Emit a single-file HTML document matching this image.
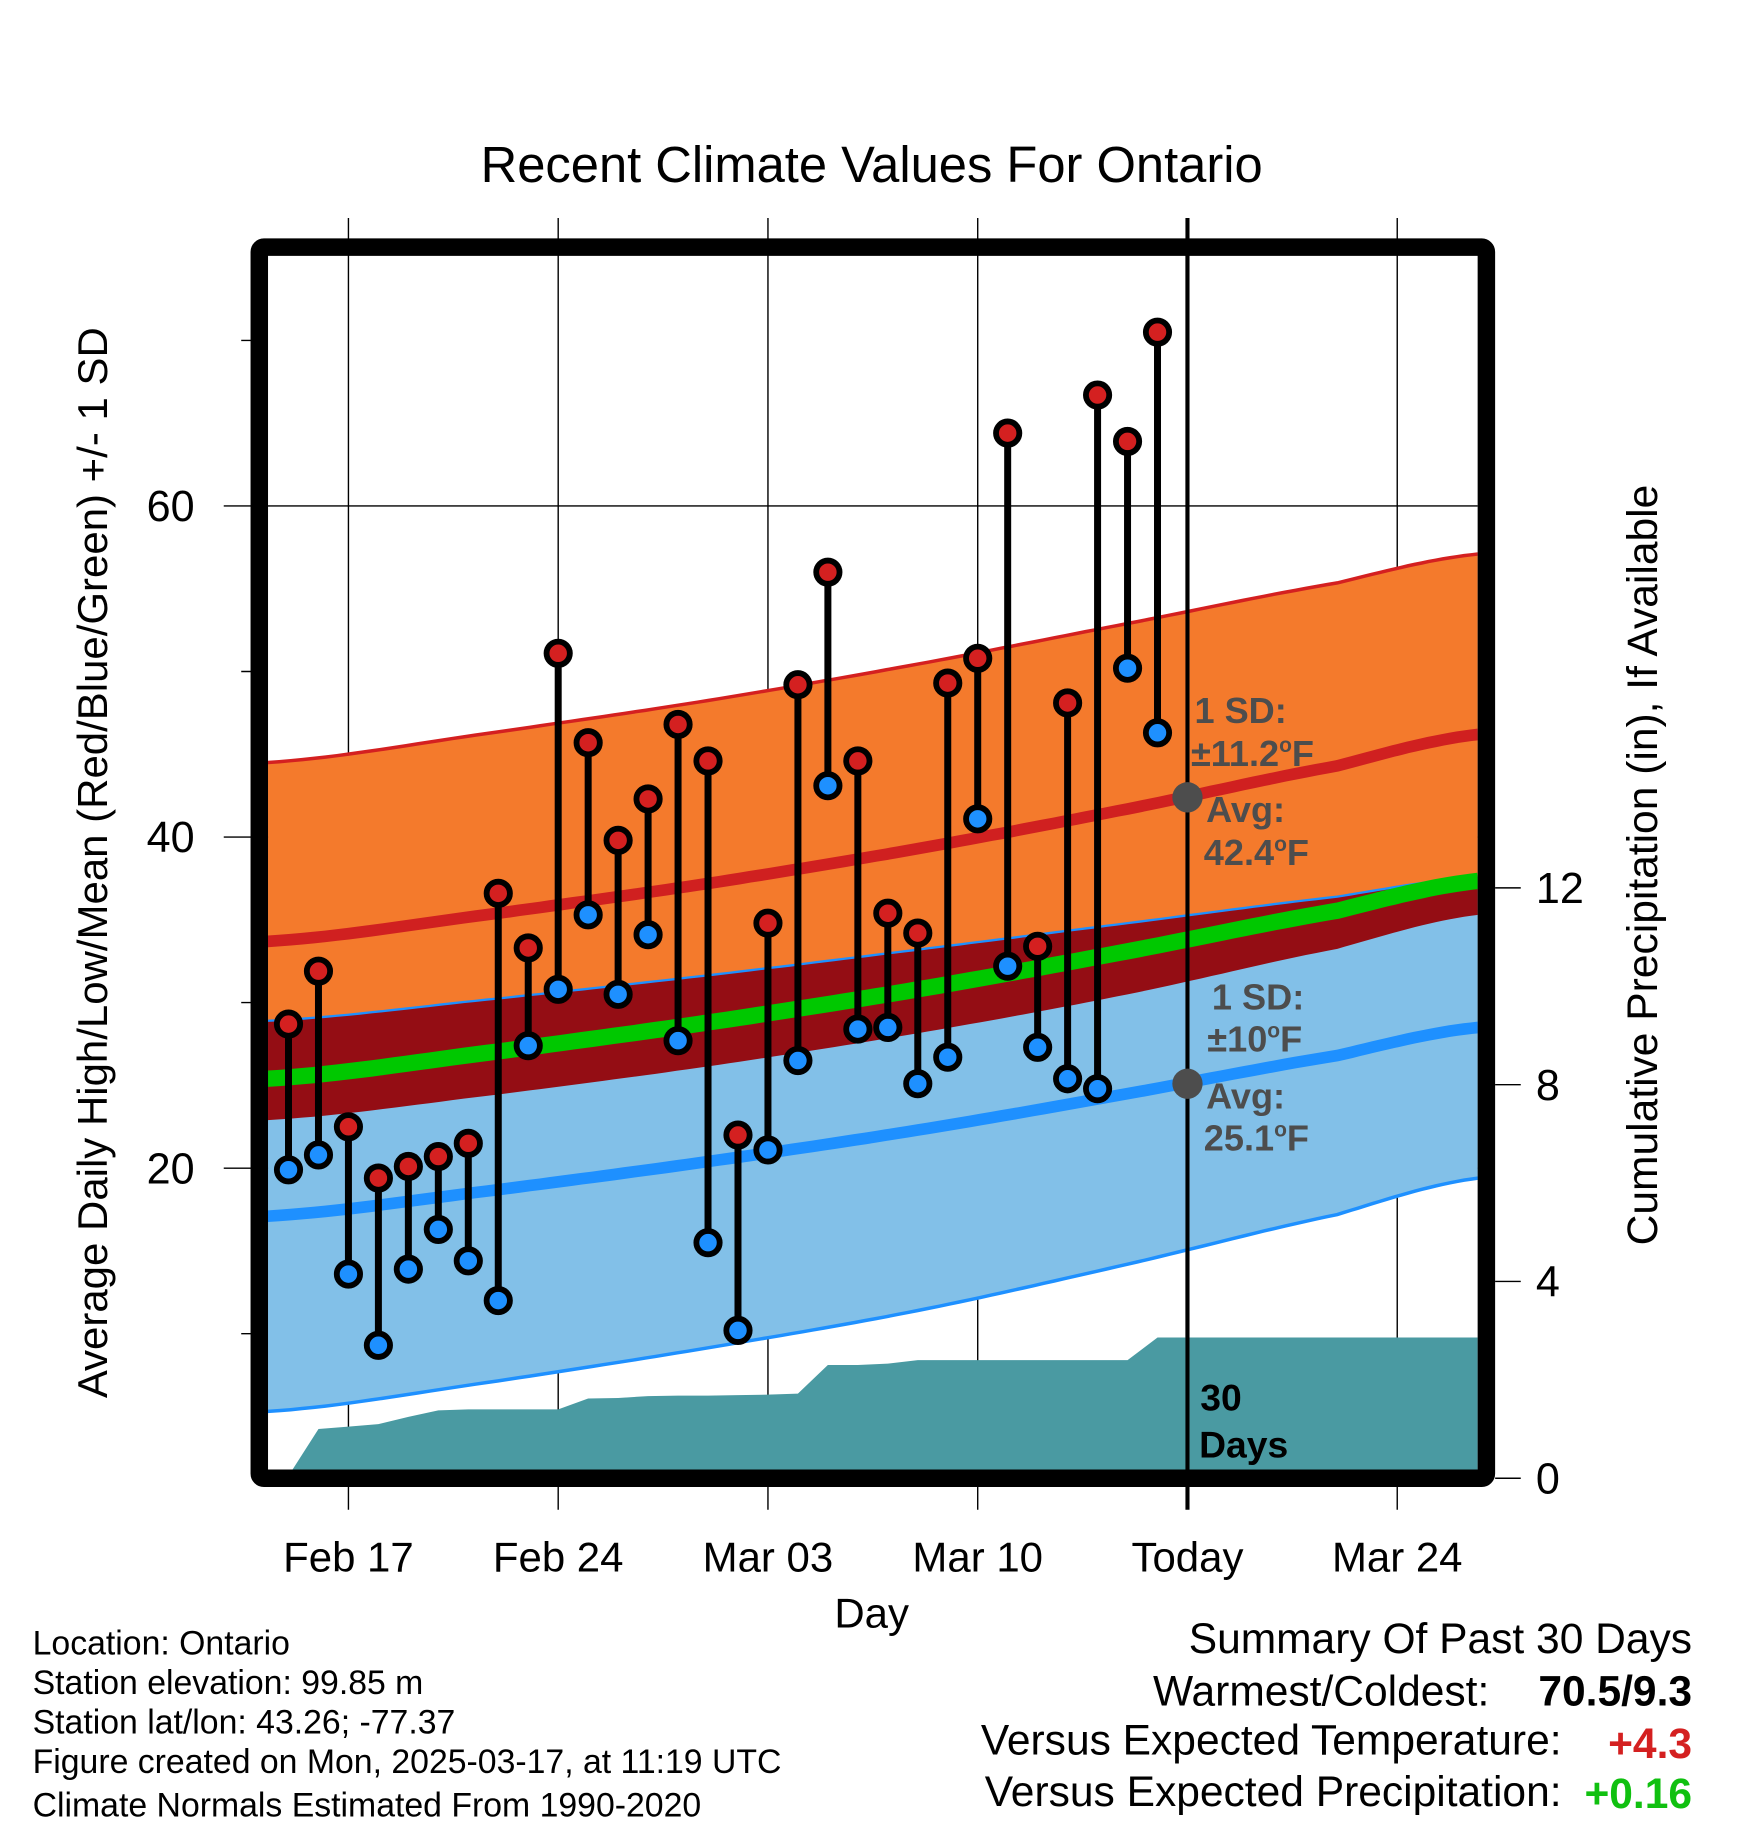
<!DOCTYPE html>
<html><head><meta charset="utf-8"><style>
html,body{margin:0;padding:0;background:#fff;}
svg{display:block;font-family:"Liberation Sans",sans-serif;}
</style></head><body>
<svg id="chart" width="1748" height="1828" viewBox="0 0 1500 1568" preserveAspectRatio="none" xmlns="http://www.w3.org/2000/svg">
<defs><clipPath id="plotclip"><rect x="230" y="219" width="1038" height="1042"/></clipPath></defs>
<rect x="0" y="0" width="1500" height="1568" fill="#fff"/>
<text x="748" y="156" font-size="43.5" text-anchor="middle">Recent Climate Values For Ontario</text>
<g id="grid"></g>
<g id="bands" clip-path="url(#plotclip)"></g>
<g id="precip" clip-path="url(#plotclip)"></g>
<g id="marks"></g>
<g id="labels"></g>
<rect x="222.5" y="212" width="1053" height="1056" fill="none" stroke="#000" stroke-width="15" rx="4"/>
<text transform="translate(92,740) rotate(-90)" font-size="36" text-anchor="middle">Average Daily High/Low/Mean (Red/Blue/Green) +/- 1 SD</text>
<text transform="translate(1422,742) rotate(-90)" font-size="36.5" text-anchor="middle">Cumulative Precipitation (in), If Available</text>
<text x="748" y="1396" font-size="36" text-anchor="middle">Day</text>
<g font-size="29">
<text x="28" y="1419">Location: Ontario</text>
<text x="28" y="1453">Station elevation: 99.85 m</text>
<text x="28" y="1487">Station lat/lon: 43.26; -77.37</text>
<text x="28" y="1521">Figure created on Mon, 2025-03-17, at 11:19 UTC</text>
<text x="28" y="1558">Climate Normals Estimated From 1990-2020</text>
</g>
<g font-size="36.5">
<text x="1452" y="1418" text-anchor="end">Summary Of Past 30 Days</text>
<text x="1278" y="1463" text-anchor="end">Warmest/Coldest:</text>
<text x="1452" y="1463" text-anchor="end" font-weight="bold">70.5/9.3</text>
<text x="1340" y="1505" text-anchor="end">Versus Expected Temperature:</text>
<text x="1452" y="1508" text-anchor="end" font-weight="bold" fill="#d42020">+4.3</text>
<text x="1340" y="1549" text-anchor="end">Versus Expected Precipitation:</text>
<text x="1452" y="1551" text-anchor="end" font-weight="bold" fill="#10c010">+0.16</text>
</g>
</svg>
<script>
// ---- data ----
const days = [-2,-1,0,1,2,3,4,5,6,7,8,9,10,11,12,13,14,15,16,17,18,19,20,21,22,23,24,25,26,27];
const highs = [28.7,31.9,22.5,19.4,20.1,20.7,21.5,36.6,33.3,51.1,45.7,39.8,42.3,46.8,44.6,22.0,34.8,49.2,56.0,44.6,35.4,34.2,49.3,50.8,64.4,33.4,48.1,66.7,63.9,70.5];
const lows = [19.9,20.8,13.6,9.3,13.9,16.3,14.4,12.0,27.4,30.8,35.3,30.5,34.1,27.7,15.5,10.2,21.1,26.5,43.1,28.4,28.5,25.1,26.7,41.1,32.2,27.3,25.4,24.8,50.2,46.3];
const precip = [0.05,1.0,1.05,1.1,1.25,1.38,1.4,1.4,1.4,1.4,1.62,1.63,1.67,1.68,1.68,1.69,1.7,1.72,2.3,2.3,2.33,2.4,2.4,2.4,2.4,2.4,2.4,2.4,2.4,2.86];
const normDays = [-2.7,5,12,19,26,33,37.7];
const highMean = [33.7,35.4,37.2,39.3,41.7,44.3,46.2];
const highSD = [10.8,10.95,11.05,11.15,11.2,11.05,10.9];
const lowMean = [17.1,18.7,20.4,22.3,24.5,26.8,28.5];
const lowSD = [11.8,11.55,11.25,10.9,10.3,9.6,9.1];
const xTickDays = [0,7,14,21,28,35];
const xTickLabels = ["Feb 17","Feb 24","Mar 03","Mar 10","Today","Mar 24"];
const yTicks = [20,40,60];
const yMinor = [10,30,50,70];
const pTicks = [0,4,8,12];

// ---- scales ----
const X = d => 299 + d*180/7;
const Y = t => 1002 - (t-20)*14.2;
const P = p => 1268 - p*42.2;
const NS = "http://www.w3.org/2000/svg";
function el(tag, attrs, parent){const e=document.createElementNS(NS,tag);for(const k in attrs)e.setAttribute(k,attrs[k]);parent.appendChild(e);return e;}
const G = id => document.getElementById(id);

function curve(vals){
  const pts=[];
  for(let i=0;i<normDays.length-1;i++){
    const p0=vals[Math.max(i-1,0)],p1=vals[i],p2=vals[i+1],p3=vals[Math.min(i+2,vals.length-1)];
    const d1=normDays[i],d2=normDays[i+1];
    for(let s=0;s<20;s++){const t=s/20;
      const v=0.5*((2*p1)+(-p0+p2)*t+(2*p0-5*p1+4*p2-p3)*t*t+(-p0+3*p1-3*p2+p3)*t*t*t);
      pts.push([d1+(d2-d1)*t,v]);}
  }
  pts.push([normDays[normDays.length-1],vals[vals.length-1]]);
  return pts;
}
const hm=curve(highMean), hs=curve(highSD), lm=curve(lowMean), ls=curve(lowSD);
const hU=hm.map((p,i)=>[p[0],p[1]+hs[i][1]]), hL=hm.map((p,i)=>[p[0],p[1]-hs[i][1]]);
const lU=lm.map((p,i)=>[p[0],p[1]+ls[i][1]]), lL=lm.map((p,i)=>[p[0],p[1]-ls[i][1]]);
const mid=hm.map((p,i)=>[p[0],(p[1]+lm[i][1])/2]);
const line = a => a.map((p,i)=>(i?'L':'M')+X(p[0]).toFixed(1)+','+Y(p[1]).toFixed(1)).join(' ');
const band = (u,l) => line(u)+' '+l.slice().reverse().map(p=>'L'+X(p[0]).toFixed(1)+','+Y(p[1]).toFixed(1)).join(' ')+'Z';

// ---- grid ----
const grid=G('grid');
xTickDays.forEach((d,i)=>{
  const g=el('line',{x1:X(d),x2:X(d),y1:187,y2:1295,stroke:'#000','stroke-width':d===28?3.5:1.2},grid);
  
  
  const t=el('text',{x:X(d),y:1348,'font-size':36,'text-anchor':'middle'},grid);t.textContent=xTickLabels[i];
  
  
});
yTicks.forEach(v=>{
  const g=el('line',{x1:192,x2:1268,y1:Y(v),y2:Y(v),stroke:'#000','stroke-width':1.2},grid);
  
  
  const t=el('text',{x:167,y:Y(v)+13,'font-size':37,'text-anchor':'end'},grid);t.textContent=v;
  
  
});
yMinor.forEach(v=>{
  const g=el('line',{x1:207,x2:222,y1:Y(v),y2:Y(v),stroke:'#000','stroke-width':1.2},grid);
  
  
});
pTicks.forEach(v=>{
  const g=el('line',{x1:1283,x2:1305,y1:P(v),y2:P(v),stroke:'#000','stroke-width':1.2},grid);
  
  
  const t=el('text',{x:1318,y:P(v)+13,'font-size':37,'text-anchor':'start'},grid);t.textContent=v;
  
  
});

// ---- normal bands ----
const bands=G('bands');
let e;
e=el('path',{d:band(hU,hL),fill:'#f47a2c'},bands);


e=el('path',{d:band(lU,lL),fill:'#82c0e8'},bands);


const ovTop=lU.map((p,i)=>[p[0],Math.max(p[1],hL[i][1])]);
e=el('path',{d:band(ovTop,hL),fill:'#940d14'},bands);


e=el('path',{d:line(hU),fill:'none',stroke:'#d42020','stroke-width':3},bands);


e=el('path',{d:line(lU),fill:'none',stroke:'#1e90ff','stroke-width':2},bands);


e=el('path',{d:line(lL),fill:'none',stroke:'#1e90ff','stroke-width':3},bands);


e=el('path',{d:line(mid),fill:'none',stroke:'#00c800','stroke-width':14},bands);


e=el('path',{d:line(hm),fill:'none',stroke:'#d02020','stroke-width':10},bands);


e=el('path',{d:line(lm),fill:'none',stroke:'#1e90ff','stroke-width':10},bands);



// ---- precipitation ----
let pd='M236,'+P(0);
days.forEach((d,i)=>{pd+=' L'+X(d).toFixed(1)+','+P(precip[i]).toFixed(1);});
pd+=' L1270,'+P(precip[precip.length-1]).toFixed(1)+' L1270,1262 L236,1262 Z';
e=el('path',{d:pd,fill:'#4a9aa2'},G('precip'));



e=el('line',{x1:X(28),x2:X(28),y1:219,y2:1262,stroke:'#000','stroke-width':3.5},G('marks'));



// ---- daily marks ----
const marks=G('marks');
days.forEach((d,i)=>{
  const s=el('line',{x1:X(d),x2:X(d),y1:Y(highs[i]),y2:Y(lows[i]),stroke:'#000','stroke-width':6},marks);
  
  
});
days.forEach((d,i)=>{
  const h=el('circle',{cx:X(d),cy:Y(highs[i]),r:10,fill:'#d42020',stroke:'#000','stroke-width':5},marks);
  
  
  const l=el('circle',{cx:X(d),cy:Y(lows[i]),r:10,fill:'#1e90ff',stroke:'#000','stroke-width':5},marks);
  
  
});

// ---- annotations ----
const lab=G('labels');
const hNow=42.4, lNow=25.1;
e=el('circle',{cx:X(28),cy:Y(hNow),r:13,fill:'#4d4d4d'},lab);


e=el('circle',{cx:X(28),cy:Y(lNow),r:13,fill:'#4d4d4d'},lab);


function txt(x,y,html,name,fill,size){const t=el('text',{x:x,y:y,'font-size':size||31,'font-weight':'bold',fill:fill||'#4d4d4d'},lab);t.innerHTML=html;
  
  }
const deg='<tspan dy="-12" font-size="18">o</tspan><tspan dy="12">F</tspan>';
txt(1025,620,'1 SD:','high-sd-label');
txt(1022,657,'±11.2'+deg,'high-sd-value');
txt(1035,705,'Avg:','high-avg-label');
txt(1033,742,hNow.toFixed(1)+deg,'high-avg-value');
txt(1040,866,'1 SD:','low-sd-label');
txt(1036,902,'±10'+deg,'low-sd-value');
txt(1035,951,'Avg:','low-avg-label');
txt(1033,987,lNow.toFixed(1)+deg,'low-avg-value');
txt(1030,1210,'30','precip-days-number','#000',32);
txt(1029,1250,'Days','precip-days-label','#000',32);
</script>
</body></html>
